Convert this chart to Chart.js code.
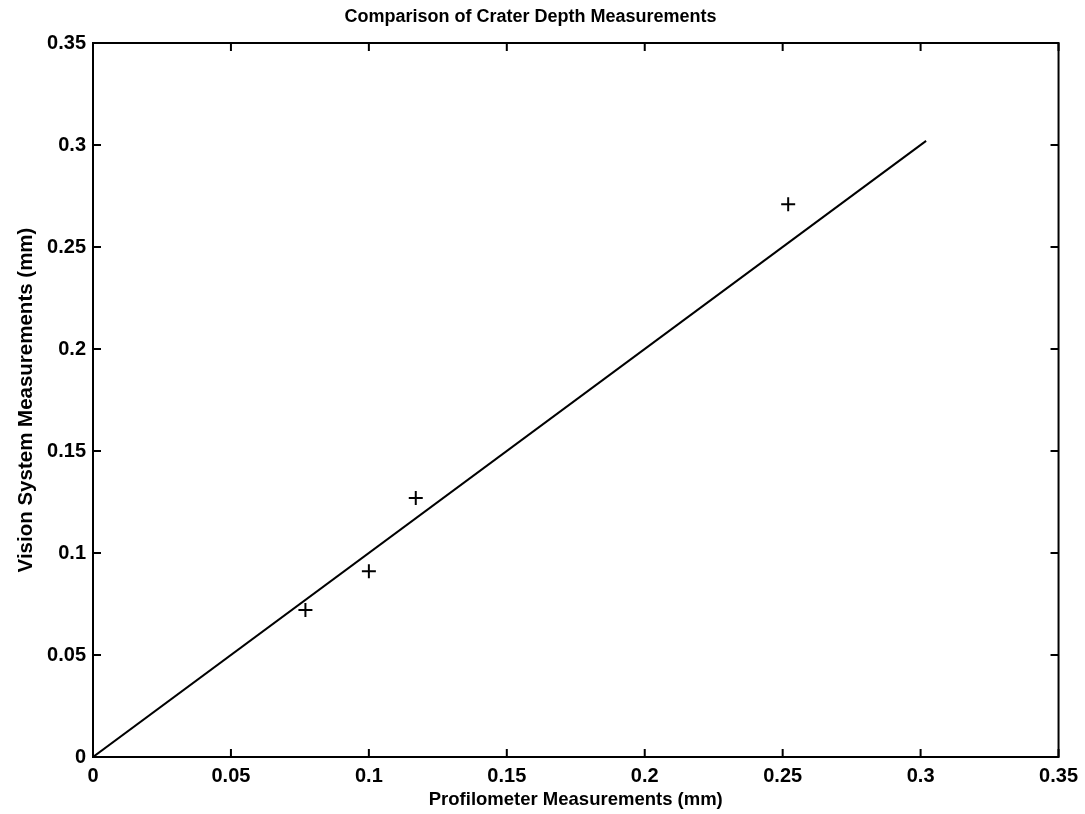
<!DOCTYPE html>
<html>
<head>
<meta charset="utf-8">
<script src="https://cdn.jsdelivr.net/npm/chart.js@4"></script>
<style>
  html, body { margin: 0; padding: 0; background: #fff; }
  #wrap { width: 1085px; height: 814px; }
</style>
</head>
<body>
<div id="wrap"><canvas id="c" width="1085" height="814"></canvas></div>
<script>
// Crater depth: profilometer (x) vs vision system (y), in mm
const profilometerDepth = [0.077, 0.100, 0.117, 0.252];
const visionDepth       = [0.072, 0.091, 0.127, 0.271];

// Reference line y = x
const refLineX = [0, 0.302];
const refLineY = [0, 0.302];

// Axis ticks
const xTickValues = [0, 0.05, 0.1, 0.15, 0.2, 0.25, 0.3, 0.35];
const xTickLabels = ['0', '0.05', '0.1', '0.15', '0.2', '0.25', '0.3', '0.35'];
const yTickValues = [0, 0.05, 0.1, 0.15, 0.2, 0.25, 0.3, 0.35];
const yTickLabels = ['0', '0.05', '0.1', '0.15', '0.2', '0.25', '0.3', '0.35'];

const FONT = '"Liberation Sans", Arial, Helvetica, sans-serif';

// Box around the axes with short inward ticks on all four sides
const boxTicks = {
  id: 'boxTicks',
  afterDatasetsDraw(chart) {
    const { ctx, chartArea: a, scales } = chart;
    const len = 8;
    ctx.save();
    ctx.strokeStyle = '#000';
    ctx.lineWidth = 2;
    ctx.strokeRect(a.left, a.top, a.right - a.left, a.bottom - a.top);
    ctx.beginPath();
    scales.x.ticks.forEach(t => {
      const px = scales.x.getPixelForValue(t.value);
      ctx.moveTo(px, a.bottom); ctx.lineTo(px, a.bottom - len);
      ctx.moveTo(px, a.top);    ctx.lineTo(px, a.top + len);
    });
    scales.y.ticks.forEach(t => {
      const py = scales.y.getPixelForValue(t.value);
      ctx.moveTo(a.left, py);  ctx.lineTo(a.left + len, py);
      ctx.moveTo(a.right, py); ctx.lineTo(a.right - len, py);
    });
    ctx.stroke();
    ctx.restore();
  }
};

new Chart(document.getElementById('c'), {
  type: 'scatter',
  data: {
    datasets: [
      {
        type: 'line',
        data: refLineX.map((x, i) => ({ x, y: refLineY[i] })),
        borderColor: '#000',
        borderWidth: 2,
        pointRadius: 0,
        fill: false,
        tension: 0
      },
      {
        data: profilometerDepth.map((x, i) => ({ x, y: visionDepth[i] })),
        pointStyle: 'cross',
        pointRadius: 7,
        pointBorderWidth: 2,
        borderColor: '#000',
        backgroundColor: '#000'
      }
    ]
  },
  options: {
    responsive: false,
    animation: false,
    layout: { padding: { left: 0, right: 24, top: 0, bottom: 0 } },
    plugins: {
      legend: { display: false },
      tooltip: { enabled: false },
      title: {
        display: true,
        text: 'Comparison of Crater Depth Measurements',
        color: '#000',
        font: { family: FONT, size: 18, weight: 'bold' },
        padding: { top: 6, bottom: 15.4 }
      }
    },
    scales: {
      x: {
        type: 'linear',
        min: 0,
        max: 0.35,
        afterBuildTicks: s => { s.ticks = xTickValues.map(v => ({ value: v })); },
        afterFit: s => { s.height = 57; },
        ticks: {
          color: '#000',
          padding: 7,
          font: { family: FONT, size: 20, weight: 'bold' },
          callback: (v, i) => xTickLabels[i]
        },
        grid: { display: false, drawTicks: false },
        border: { display: false },
        title: {
          display: true,
          text: 'Profilometer Measurements (mm)',
          color: '#000',
          font: { family: FONT, size: 18.5, weight: 'bold' },
          padding: { top: 0, bottom: 3 }
        }
      },
      y: {
        type: 'linear',
        min: 0,
        max: 0.35,
        afterBuildTicks: s => { s.ticks = yTickValues.map(v => ({ value: v })); },
        afterFit: s => { s.width = 93; },
        ticks: {
          color: '#000',
          padding: 7,
          font: { family: FONT, size: 20, weight: 'bold' },
          callback: (v, i) => yTickLabels[i]
        },
        grid: { display: false, drawTicks: false },
        border: { display: false },
        title: {
          display: true,
          text: 'Vision System Measurements (mm)',
          color: '#000',
          font: { family: FONT, size: 20.5, weight: 'bold' },
          padding: { top: 14, bottom: 0 }
        }
      }
    }
  },
  plugins: [boxTicks]
});
</script>
</body>
</html>
